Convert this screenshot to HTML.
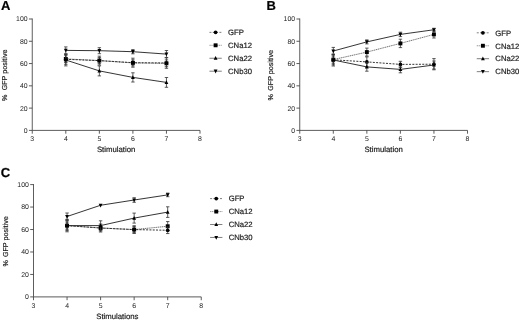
<!DOCTYPE html>
<html><head><meta charset="utf-8"><title>Figure</title>
<style>
html,body{margin:0;padding:0;background:#fff;}
body{width:520px;height:320px;overflow:hidden;font-family:"Liberation Sans",sans-serif;}
svg{display:block;font-family:"Liberation Sans",sans-serif;}
text{stroke:#1c1c1c;stroke-width:0.2px;text-rendering:geometricPrecision;}
text.t{stroke:none;}
</style></head><body>
<svg width="520" height="320" viewBox="0 0 520 320">
<defs><filter id="bl" x="0" y="0" width="520" height="320" filterUnits="userSpaceOnUse"><feGaussianBlur stdDeviation="0.35"/></filter></defs>
<rect width="520" height="320" fill="#fff"/>
<g filter="url(#bl)">
<text x="1" y="10.3" font-size="13" font-weight="bold" fill="#000">A</text>
<path d="M32.25 18.5V130.4H200" fill="none" stroke="#404040" stroke-width="0.85"/>
<path d="M28.95 130.4H32.25" stroke="#404040" stroke-width="0.85"/>
<text x="27.55" y="132.8" class="t" font-size="6.9" text-anchor="end" fill="#1c1c1c">0</text>
<path d="M28.95 108.12H32.25" stroke="#404040" stroke-width="0.85"/>
<text x="27.55" y="110.52" class="t" font-size="6.9" text-anchor="end" fill="#1c1c1c">20</text>
<path d="M28.95 85.84H32.25" stroke="#404040" stroke-width="0.85"/>
<text x="27.55" y="88.24" class="t" font-size="6.9" text-anchor="end" fill="#1c1c1c">40</text>
<path d="M28.95 63.56H32.25" stroke="#404040" stroke-width="0.85"/>
<text x="27.55" y="65.96" class="t" font-size="6.9" text-anchor="end" fill="#1c1c1c">60</text>
<path d="M28.95 41.28H32.25" stroke="#404040" stroke-width="0.85"/>
<text x="27.55" y="43.68" class="t" font-size="6.9" text-anchor="end" fill="#1c1c1c">80</text>
<path d="M28.95 19H32.25" stroke="#404040" stroke-width="0.85"/>
<text x="27.55" y="21.4" class="t" font-size="6.9" text-anchor="end" fill="#1c1c1c">100</text>
<path d="M32.25 130.4V133.7" stroke="#404040" stroke-width="0.85"/>
<text x="32.25" y="141.2" class="t" font-size="6.9" text-anchor="middle" fill="#1c1c1c">3</text>
<path d="M65.8 130.4V133.7" stroke="#404040" stroke-width="0.85"/>
<text x="65.8" y="141.2" class="t" font-size="6.9" text-anchor="middle" fill="#1c1c1c">4</text>
<path d="M99.35 130.4V133.7" stroke="#404040" stroke-width="0.85"/>
<text x="99.35" y="141.2" class="t" font-size="6.9" text-anchor="middle" fill="#1c1c1c">5</text>
<path d="M132.9 130.4V133.7" stroke="#404040" stroke-width="0.85"/>
<text x="132.9" y="141.2" class="t" font-size="6.9" text-anchor="middle" fill="#1c1c1c">6</text>
<path d="M166.45 130.4V133.7" stroke="#404040" stroke-width="0.85"/>
<text x="166.45" y="141.2" class="t" font-size="6.9" text-anchor="middle" fill="#1c1c1c">7</text>
<path d="M200 130.4V133.7" stroke="#404040" stroke-width="0.85"/>
<text x="200" y="141.2" class="t" font-size="6.9" text-anchor="middle" fill="#1c1c1c">8</text>
<text x="116.12" y="152.4" font-size="7.75" text-anchor="middle" fill="#1c1c1c">Stimulation</text>
<text transform="translate(6.7 75.3) rotate(-90)" font-size="7.15" text-anchor="middle" fill="#1c1c1c">%<tspan dx="2.4"> GFP positive</tspan></text>
<path d="M65.8 58.9L99.35 60.6L132.9 62.9L166.45 63.3" fill="none" stroke="#444" stroke-width="0.75" stroke-dasharray="1.3 0.6"/>
<path d="M65.8 59.3L99.35 60.6L132.9 62.7L166.45 63" fill="none" stroke="#2a2a2a" stroke-width="0.95" stroke-dasharray="2 1.3"/>
<path d="M65.8 60L99.35 70.9L132.9 77.4L166.45 82.4" fill="none" stroke="#2a2a2a" stroke-width="0.95"/>
<path d="M65.8 50.4L99.35 50.7L132.9 51.7L166.45 54.1" fill="none" stroke="#2a2a2a" stroke-width="0.95"/>
<path d="M65.8 55.3V62.5M64.1 55.3H67.5M64.1 62.5H67.5" fill="none" stroke="#333" stroke-width="0.8"/>
<path d="M99.35 57.6V63.6M97.65 57.6H101.05M97.65 63.6H101.05" fill="none" stroke="#333" stroke-width="0.8"/>
<path d="M132.9 59.9V65.9M131.2 59.9H134.6M131.2 65.9H134.6" fill="none" stroke="#333" stroke-width="0.8"/>
<path d="M166.45 59.9V66.7M164.75 59.9H168.15M164.75 66.7H168.15" fill="none" stroke="#333" stroke-width="0.8"/>
<rect x="63.85" y="56.95" width="3.9" height="3.9" fill="#000"/>
<rect x="97.4" y="58.65" width="3.9" height="3.9" fill="#000"/>
<rect x="130.95" y="60.95" width="3.9" height="3.9" fill="#000"/>
<rect x="164.5" y="61.35" width="3.9" height="3.9" fill="#000"/>
<path d="M65.8 54.3V64.3M64.1 54.3H67.5M64.1 64.3H67.5" fill="none" stroke="#333" stroke-width="0.8"/>
<path d="M99.35 56.2V65M97.65 56.2H101.05M97.65 65H101.05" fill="none" stroke="#333" stroke-width="0.8"/>
<path d="M132.9 58.2V67.2M131.2 58.2H134.6M131.2 67.2H134.6" fill="none" stroke="#333" stroke-width="0.8"/>
<path d="M166.45 57.7V68.3M164.75 57.7H168.15M164.75 68.3H168.15" fill="none" stroke="#333" stroke-width="0.8"/>
<circle cx="65.8" cy="59.3" r="1.85" fill="#000"/>
<circle cx="99.35" cy="60.6" r="1.85" fill="#000"/>
<circle cx="132.9" cy="62.7" r="1.85" fill="#000"/>
<circle cx="166.45" cy="63" r="1.85" fill="#000"/>
<path d="M65.8 54.1V65.9M64.1 54.1H67.5M64.1 65.9H67.5" fill="none" stroke="#333" stroke-width="0.8"/>
<path d="M99.35 65.9V75.9M97.65 65.9H101.05M97.65 75.9H101.05" fill="none" stroke="#333" stroke-width="0.8"/>
<path d="M132.9 72.8V82M131.2 72.8H134.6M131.2 82H134.6" fill="none" stroke="#333" stroke-width="0.8"/>
<path d="M166.45 77.5V87.3M164.75 77.5H168.15M164.75 87.3H168.15" fill="none" stroke="#333" stroke-width="0.8"/>
<path d="M63.9 61.58L67.7 61.58L65.8 57.8Z" fill="#000"/>
<path d="M97.45 72.48L101.25 72.48L99.35 68.7Z" fill="#000"/>
<path d="M131 78.98L134.8 78.98L132.9 75.2Z" fill="#000"/>
<path d="M164.55 83.98L168.35 83.98L166.45 80.2Z" fill="#000"/>
<path d="M65.8 46.9V53.9M64.1 46.9H67.5M64.1 53.9H67.5" fill="none" stroke="#333" stroke-width="0.8"/>
<path d="M99.35 47.7V53.7M97.65 47.7H101.05M97.65 53.7H101.05" fill="none" stroke="#333" stroke-width="0.8"/>
<path d="M132.9 49.6V53.8M131.2 49.6H134.6M131.2 53.8H134.6" fill="none" stroke="#333" stroke-width="0.8"/>
<path d="M166.45 50.5V57.7M164.75 50.5H168.15M164.75 57.7H168.15" fill="none" stroke="#333" stroke-width="0.8"/>
<path d="M63.9 48.82L67.7 48.82L65.8 52.6Z" fill="#000"/>
<path d="M97.45 49.12L101.25 49.12L99.35 52.91Z" fill="#000"/>
<path d="M131 50.12L134.8 50.12L132.9 53.91Z" fill="#000"/>
<path d="M164.55 52.52L168.35 52.52L166.45 56.3Z" fill="#000"/>
<path d="M209.45 32.35H221.75" stroke="#4a4a4a" stroke-width="0.7124999999999999" stroke-dasharray="2 1.3"/>
<circle cx="215.6" cy="32.35" r="1.85" fill="#000"/>
<text x="228.05" y="35.1" font-size="7.7" fill="#1c1c1c">GFP</text>
<path d="M209.45 45.3H221.75" stroke="#4a4a4a" stroke-width="0.5625" stroke-dasharray="1.3 0.6"/>
<rect x="213.65" y="43.35" width="3.9" height="3.9" fill="#000"/>
<text x="228.05" y="48.05" font-size="7.7" fill="#1c1c1c">CNa12</text>
<path d="M209.45 58.25H221.75" stroke="#4a4a4a" stroke-width="0.7124999999999999"/>
<path d="M213.7 59.83L217.5 59.83L215.6 56.05Z" fill="#000"/>
<text x="228.05" y="61" font-size="7.7" fill="#1c1c1c">CNa22</text>
<path d="M209.45 71.2H221.75" stroke="#4a4a4a" stroke-width="0.7124999999999999"/>
<path d="M213.7 69.62L217.5 69.62L215.6 73.4Z" fill="#000"/>
<text x="228.05" y="73.95" font-size="7.7" fill="#1c1c1c">CNb30</text>
<text x="266.4" y="10.3" font-size="13" font-weight="bold" fill="#000">B</text>
<path d="M299.75 18.5V130.4H467.5" fill="none" stroke="#404040" stroke-width="0.85"/>
<path d="M296.45 130.4H299.75" stroke="#404040" stroke-width="0.85"/>
<text x="295.05" y="132.8" class="t" font-size="6.9" text-anchor="end" fill="#1c1c1c">0</text>
<path d="M296.45 108.12H299.75" stroke="#404040" stroke-width="0.85"/>
<text x="295.05" y="110.52" class="t" font-size="6.9" text-anchor="end" fill="#1c1c1c">20</text>
<path d="M296.45 85.84H299.75" stroke="#404040" stroke-width="0.85"/>
<text x="295.05" y="88.24" class="t" font-size="6.9" text-anchor="end" fill="#1c1c1c">40</text>
<path d="M296.45 63.56H299.75" stroke="#404040" stroke-width="0.85"/>
<text x="295.05" y="65.96" class="t" font-size="6.9" text-anchor="end" fill="#1c1c1c">60</text>
<path d="M296.45 41.28H299.75" stroke="#404040" stroke-width="0.85"/>
<text x="295.05" y="43.68" class="t" font-size="6.9" text-anchor="end" fill="#1c1c1c">80</text>
<path d="M296.45 19H299.75" stroke="#404040" stroke-width="0.85"/>
<text x="295.05" y="21.4" class="t" font-size="6.9" text-anchor="end" fill="#1c1c1c">100</text>
<path d="M299.75 130.4V133.7" stroke="#404040" stroke-width="0.85"/>
<text x="299.75" y="141.2" class="t" font-size="6.9" text-anchor="middle" fill="#1c1c1c">3</text>
<path d="M333.3 130.4V133.7" stroke="#404040" stroke-width="0.85"/>
<text x="333.3" y="141.2" class="t" font-size="6.9" text-anchor="middle" fill="#1c1c1c">4</text>
<path d="M366.85 130.4V133.7" stroke="#404040" stroke-width="0.85"/>
<text x="366.85" y="141.2" class="t" font-size="6.9" text-anchor="middle" fill="#1c1c1c">5</text>
<path d="M400.4 130.4V133.7" stroke="#404040" stroke-width="0.85"/>
<text x="400.4" y="141.2" class="t" font-size="6.9" text-anchor="middle" fill="#1c1c1c">6</text>
<path d="M433.95 130.4V133.7" stroke="#404040" stroke-width="0.85"/>
<text x="433.95" y="141.2" class="t" font-size="6.9" text-anchor="middle" fill="#1c1c1c">7</text>
<path d="M467.5 130.4V133.7" stroke="#404040" stroke-width="0.85"/>
<text x="467.5" y="141.2" class="t" font-size="6.9" text-anchor="middle" fill="#1c1c1c">8</text>
<text x="383.62" y="152.4" font-size="7.75" text-anchor="middle" fill="#1c1c1c">Stimulation</text>
<text transform="translate(273.4 75.3) rotate(-90)" font-size="7.15" text-anchor="middle" fill="#1c1c1c">%<tspan dx="1.5"> GFP positive</tspan></text>
<path d="M333.3 59.6L366.85 52.1L400.4 43.4L433.95 34.4" fill="none" stroke="#444" stroke-width="0.75" stroke-dasharray="1.3 0.6"/>
<path d="M333.3 59.8L366.85 61.9L400.4 64.4L433.95 64.2" fill="none" stroke="#2a2a2a" stroke-width="0.95" stroke-dasharray="2 1.3"/>
<path d="M333.3 60L366.85 66.9L400.4 69.4L433.95 65" fill="none" stroke="#2a2a2a" stroke-width="0.95"/>
<path d="M333.3 51L366.85 41.9L400.4 34.4L433.95 29.75" fill="none" stroke="#2a2a2a" stroke-width="0.95"/>
<path d="M333.3 56V63.2M331.6 56H335M331.6 63.2H335" fill="none" stroke="#333" stroke-width="0.8"/>
<path d="M366.85 48.1V56.1M365.15 48.1H368.55M365.15 56.1H368.55" fill="none" stroke="#333" stroke-width="0.8"/>
<path d="M400.4 39.2V47.6M398.7 39.2H402.1M398.7 47.6H402.1" fill="none" stroke="#333" stroke-width="0.8"/>
<path d="M433.95 30.8V38M432.25 30.8H435.65M432.25 38H435.65" fill="none" stroke="#333" stroke-width="0.8"/>
<rect x="331.35" y="57.65" width="3.9" height="3.9" fill="#000"/>
<rect x="364.9" y="50.15" width="3.9" height="3.9" fill="#000"/>
<rect x="398.45" y="41.45" width="3.9" height="3.9" fill="#000"/>
<rect x="432" y="32.45" width="3.9" height="3.9" fill="#000"/>
<path d="M333.3 54.8V64.8M331.6 54.8H335M331.6 64.8H335" fill="none" stroke="#333" stroke-width="0.8"/>
<path d="M366.85 56.9V66.9M365.15 56.9H368.55M365.15 66.9H368.55" fill="none" stroke="#333" stroke-width="0.8"/>
<path d="M400.4 61.3V67.5M398.7 61.3H402.1M398.7 67.5H402.1" fill="none" stroke="#333" stroke-width="0.8"/>
<path d="M433.95 58.6V69.8M432.25 58.6H435.65M432.25 69.8H435.65" fill="none" stroke="#333" stroke-width="0.8"/>
<circle cx="333.3" cy="59.8" r="1.85" fill="#000"/>
<circle cx="366.85" cy="61.9" r="1.85" fill="#000"/>
<circle cx="400.4" cy="64.4" r="1.85" fill="#000"/>
<circle cx="433.95" cy="64.2" r="1.85" fill="#000"/>
<path d="M333.3 54V66M331.6 54H335M331.6 66H335" fill="none" stroke="#333" stroke-width="0.8"/>
<path d="M366.85 62.6V71.2M365.15 62.6H368.55M365.15 71.2H368.55" fill="none" stroke="#333" stroke-width="0.8"/>
<path d="M400.4 66V72.8M398.7 66H402.1M398.7 72.8H402.1" fill="none" stroke="#333" stroke-width="0.8"/>
<path d="M433.95 61V69M432.25 61H435.65M432.25 69H435.65" fill="none" stroke="#333" stroke-width="0.8"/>
<path d="M331.4 61.58L335.2 61.58L333.3 57.8Z" fill="#000"/>
<path d="M364.95 68.48L368.75 68.48L366.85 64.7Z" fill="#000"/>
<path d="M398.5 70.98L402.3 70.98L400.4 67.2Z" fill="#000"/>
<path d="M432.05 66.58L435.85 66.58L433.95 62.8Z" fill="#000"/>
<path d="M333.3 47.4V54.6M331.6 47.4H335M331.6 54.6H335" fill="none" stroke="#333" stroke-width="0.8"/>
<path d="M366.85 39.9V43.9M365.15 39.9H368.55M365.15 43.9H368.55" fill="none" stroke="#333" stroke-width="0.8"/>
<path d="M400.4 32.2V36.6M398.7 32.2H402.1M398.7 36.6H402.1" fill="none" stroke="#333" stroke-width="0.8"/>
<path d="M433.95 28.25V31.25M432.25 28.25H435.65M432.25 31.25H435.65" fill="none" stroke="#333" stroke-width="0.8"/>
<path d="M331.4 49.42L335.2 49.42L333.3 53.2Z" fill="#000"/>
<path d="M364.95 40.32L368.75 40.32L366.85 44.1Z" fill="#000"/>
<path d="M398.5 32.82L402.3 32.82L400.4 36.6Z" fill="#000"/>
<path d="M432.05 28.18L435.85 28.18L433.95 31.95Z" fill="#000"/>
<path d="M476.75 32.8H489.05" stroke="#4a4a4a" stroke-width="0.7124999999999999" stroke-dasharray="2 1.3"/>
<circle cx="482.9" cy="32.8" r="1.85" fill="#000"/>
<text x="495.35" y="35.55" font-size="7.7" fill="#1c1c1c">GFP</text>
<path d="M476.75 45.75H489.05" stroke="#4a4a4a" stroke-width="0.5625" stroke-dasharray="1.3 0.6"/>
<rect x="480.95" y="43.8" width="3.9" height="3.9" fill="#000"/>
<text x="495.35" y="48.5" font-size="7.7" fill="#1c1c1c">CNa12</text>
<path d="M476.75 58.7H489.05" stroke="#4a4a4a" stroke-width="0.7124999999999999"/>
<path d="M481 60.27L484.8 60.27L482.9 56.49Z" fill="#000"/>
<text x="495.35" y="61.45" font-size="7.7" fill="#1c1c1c">CNa22</text>
<path d="M476.75 71.65H489.05" stroke="#4a4a4a" stroke-width="0.7124999999999999"/>
<path d="M481 70.07L484.8 70.07L482.9 73.85Z" fill="#000"/>
<text x="495.35" y="74.4" font-size="7.7" fill="#1c1c1c">CNb30</text>
<text x="0.7" y="177.4" font-size="13" font-weight="bold" fill="#000">C</text>
<path d="M33.5 184.1V296.9H201.25" fill="none" stroke="#404040" stroke-width="0.85"/>
<path d="M30.2 296.9H33.5" stroke="#404040" stroke-width="0.85"/>
<text x="28.8" y="299.3" class="t" font-size="6.9" text-anchor="end" fill="#1c1c1c">0</text>
<path d="M30.2 274.44H33.5" stroke="#404040" stroke-width="0.85"/>
<text x="28.8" y="276.84" class="t" font-size="6.9" text-anchor="end" fill="#1c1c1c">20</text>
<path d="M30.2 251.98H33.5" stroke="#404040" stroke-width="0.85"/>
<text x="28.8" y="254.38" class="t" font-size="6.9" text-anchor="end" fill="#1c1c1c">40</text>
<path d="M30.2 229.52H33.5" stroke="#404040" stroke-width="0.85"/>
<text x="28.8" y="231.92" class="t" font-size="6.9" text-anchor="end" fill="#1c1c1c">60</text>
<path d="M30.2 207.06H33.5" stroke="#404040" stroke-width="0.85"/>
<text x="28.8" y="209.46" class="t" font-size="6.9" text-anchor="end" fill="#1c1c1c">80</text>
<path d="M30.2 184.6H33.5" stroke="#404040" stroke-width="0.85"/>
<text x="28.8" y="187" class="t" font-size="6.9" text-anchor="end" fill="#1c1c1c">100</text>
<path d="M33.5 296.9V300.2" stroke="#404040" stroke-width="0.85"/>
<text x="33.5" y="307.7" class="t" font-size="6.9" text-anchor="middle" fill="#1c1c1c">3</text>
<path d="M67.05 296.9V300.2" stroke="#404040" stroke-width="0.85"/>
<text x="67.05" y="307.7" class="t" font-size="6.9" text-anchor="middle" fill="#1c1c1c">4</text>
<path d="M100.6 296.9V300.2" stroke="#404040" stroke-width="0.85"/>
<text x="100.6" y="307.7" class="t" font-size="6.9" text-anchor="middle" fill="#1c1c1c">5</text>
<path d="M134.15 296.9V300.2" stroke="#404040" stroke-width="0.85"/>
<text x="134.15" y="307.7" class="t" font-size="6.9" text-anchor="middle" fill="#1c1c1c">6</text>
<path d="M167.7 296.9V300.2" stroke="#404040" stroke-width="0.85"/>
<text x="167.7" y="307.7" class="t" font-size="6.9" text-anchor="middle" fill="#1c1c1c">7</text>
<path d="M201.25 296.9V300.2" stroke="#404040" stroke-width="0.85"/>
<text x="201.25" y="307.7" class="t" font-size="6.9" text-anchor="middle" fill="#1c1c1c">8</text>
<text x="117.38" y="318.9" font-size="7.75" text-anchor="middle" fill="#1c1c1c">Stimulations</text>
<text transform="translate(8 241.35) rotate(-90)" font-size="7.15" text-anchor="middle" fill="#1c1c1c">%<tspan dx="1.0"> GFP positive</tspan></text>
<path d="M67.05 225.6L100.6 228L134.15 229.6L167.7 226.25" fill="none" stroke="#444" stroke-width="0.75" stroke-dasharray="1.3 0.6"/>
<path d="M67.05 225.6L100.6 228L134.15 229.6L167.7 230.25" fill="none" stroke="#2a2a2a" stroke-width="0.95" stroke-dasharray="2 1.3"/>
<path d="M67.05 225.6L100.6 225.6L134.15 218.1L167.7 212.1" fill="none" stroke="#2a2a2a" stroke-width="0.95"/>
<path d="M67.05 216.5L100.6 205.25L134.15 200L167.7 194.9" fill="none" stroke="#2a2a2a" stroke-width="0.95"/>
<path d="M67.05 222V229.2M65.35 222H68.75M65.35 229.2H68.75" fill="none" stroke="#333" stroke-width="0.8"/>
<path d="M100.6 225V231M98.9 225H102.3M98.9 231H102.3" fill="none" stroke="#333" stroke-width="0.8"/>
<path d="M134.15 225.7V233.5M132.45 225.7H135.85M132.45 233.5H135.85" fill="none" stroke="#333" stroke-width="0.8"/>
<path d="M167.7 221.55V230.95M166 221.55H169.4M166 230.95H169.4" fill="none" stroke="#333" stroke-width="0.8"/>
<rect x="65.1" y="223.65" width="3.9" height="3.9" fill="#000"/>
<rect x="98.65" y="226.05" width="3.9" height="3.9" fill="#000"/>
<rect x="132.2" y="227.65" width="3.9" height="3.9" fill="#000"/>
<rect x="165.75" y="224.3" width="3.9" height="3.9" fill="#000"/>
<path d="M67.05 219.4V231.8M65.35 219.4H68.75M65.35 231.8H68.75" fill="none" stroke="#333" stroke-width="0.8"/>
<path d="M100.6 224V232M98.9 224H102.3M98.9 232H102.3" fill="none" stroke="#333" stroke-width="0.8"/>
<path d="M134.15 226.6V232.6M132.45 226.6H135.85M132.45 232.6H135.85" fill="none" stroke="#333" stroke-width="0.8"/>
<path d="M167.7 226.95V233.55M166 226.95H169.4M166 233.55H169.4" fill="none" stroke="#333" stroke-width="0.8"/>
<circle cx="67.05" cy="225.6" r="1.85" fill="#000"/>
<circle cx="100.6" cy="228" r="1.85" fill="#000"/>
<circle cx="134.15" cy="229.6" r="1.85" fill="#000"/>
<circle cx="167.7" cy="230.25" r="1.85" fill="#000"/>
<path d="M67.05 220.6V230.6M65.35 220.6H68.75M65.35 230.6H68.75" fill="none" stroke="#333" stroke-width="0.8"/>
<path d="M100.6 220.8V230.4M98.9 220.8H102.3M98.9 230.4H102.3" fill="none" stroke="#333" stroke-width="0.8"/>
<path d="M134.15 213.1V223.1M132.45 213.1H135.85M132.45 223.1H135.85" fill="none" stroke="#333" stroke-width="0.8"/>
<path d="M167.7 206.8V217.4M166 206.8H169.4M166 217.4H169.4" fill="none" stroke="#333" stroke-width="0.8"/>
<path d="M65.15 227.17L68.95 227.17L67.05 223.39Z" fill="#000"/>
<path d="M98.7 227.17L102.5 227.17L100.6 223.39Z" fill="#000"/>
<path d="M132.25 219.67L136.05 219.67L134.15 215.89Z" fill="#000"/>
<path d="M165.8 213.67L169.6 213.67L167.7 209.89Z" fill="#000"/>
<path d="M67.05 213V220M65.35 213H68.75M65.35 220H68.75" fill="none" stroke="#333" stroke-width="0.8"/>
<path d="M134.15 197.7V202.3M132.45 197.7H135.85M132.45 202.3H135.85" fill="none" stroke="#333" stroke-width="0.8"/>
<path d="M167.7 193.1V196.7M166 193.1H169.4M166 196.7H169.4" fill="none" stroke="#333" stroke-width="0.8"/>
<path d="M65.15 214.93L68.95 214.93L67.05 218.71Z" fill="#000"/>
<path d="M98.7 203.68L102.5 203.68L100.6 207.46Z" fill="#000"/>
<path d="M132.25 198.43L136.05 198.43L134.15 202.21Z" fill="#000"/>
<path d="M165.8 193.33L169.6 193.33L167.7 197.11Z" fill="#000"/>
<path d="M210.1 198.6H222.4" stroke="#4a4a4a" stroke-width="0.7124999999999999" stroke-dasharray="2 1.3"/>
<circle cx="216.25" cy="198.6" r="1.85" fill="#000"/>
<text x="228.7" y="201.35" font-size="7.7" fill="#1c1c1c">GFP</text>
<path d="M210.1 211.55H222.4" stroke="#4a4a4a" stroke-width="0.5625" stroke-dasharray="1.3 0.6"/>
<rect x="214.3" y="209.6" width="3.9" height="3.9" fill="#000"/>
<text x="228.7" y="214.3" font-size="7.7" fill="#1c1c1c">CNa12</text>
<path d="M210.1 224.5H222.4" stroke="#4a4a4a" stroke-width="0.7124999999999999"/>
<path d="M214.35 226.07L218.15 226.07L216.25 222.29Z" fill="#000"/>
<text x="228.7" y="227.25" font-size="7.7" fill="#1c1c1c">CNa22</text>
<path d="M210.1 237.45H222.4" stroke="#4a4a4a" stroke-width="0.7124999999999999"/>
<path d="M214.35 235.88L218.15 235.88L216.25 239.66Z" fill="#000"/>
<text x="228.7" y="240.2" font-size="7.7" fill="#1c1c1c">CNb30</text>
</g>
</svg>
</body></html>
